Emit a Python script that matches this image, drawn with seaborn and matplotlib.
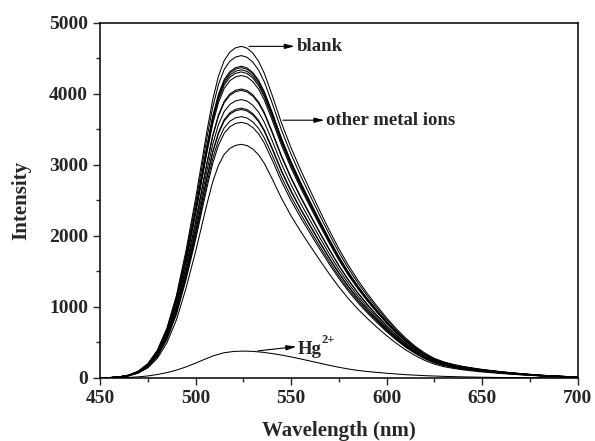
import numpy as np
import pandas as pd
import matplotlib
matplotlib.use("Agg")
import matplotlib.pyplot as plt
import seaborn as sns
from matplotlib.ticker import MultipleLocator

# ---- data ----
blank_wl = [450, 455, 460, 465, 470, 475, 480, 485, 490, 495, 500, 503, 506, 509, 512,
            515, 518, 521, 524, 527, 530, 533, 536, 540, 545, 550, 555, 560, 565,
            570, 575, 580, 585, 590, 595, 600, 605, 610, 615, 620, 625, 630, 635, 640, 645,
            650, 660, 670, 680, 690, 700]
blank_int = [0, 5, 15, 40, 95, 200, 390, 700, 1160, 1790, 2520, 3000, 3480, 3920, 4250,
             4470, 4590, 4650, 4670, 4645, 4575, 4460, 4290, 3990, 3590, 3240, 2930, 2640, 2355,
             2080, 1820, 1585, 1375, 1185, 1010, 845, 695, 560, 445, 350, 275, 225, 190, 162, 140,
             120, 88, 62, 40, 25, 14]
blank_peak = 4670
other_peaks = [4540, 4390, 4370, 4340, 4310, 4260, 4070, 4050, 3920, 3800, 3780, 3680, 3600, 3290]

hg_wl = [450, 460, 465, 470, 475, 480, 485, 490, 495, 500, 505, 510, 515, 520, 525,
         530, 535, 540, 545, 550, 555, 560, 565, 570, 575, 580, 585, 590, 595, 600,
         610, 620, 630, 640, 650, 660, 670, 680, 690, 700]
hg_int = [0, 3, 7, 15, 28, 48, 75, 110, 155, 208, 265, 318, 355, 373, 378,
          374, 362, 344, 322, 296, 268, 238, 208, 178, 150, 126, 106, 90, 78, 66,
          46, 32, 22, 15, 10, 6, 4, 2, 1, 0]

x_ticks = [450, 500, 550, 600, 650, 700]
y_ticks = [0, 1000, 2000, 3000, 4000, 5000]

# ---- build long-form table ----
rows = []
for w, v in zip(blank_wl, blank_int):
    rows.append(("blank", w, v))
for k, p in enumerate(other_peaks):
    for w, v in zip(blank_wl, blank_int):
        rows.append((f"ion{k}", w, v * p / blank_peak))
for w, v in zip(hg_wl, hg_int):
    rows.append(("Hg", w, v))
df = pd.DataFrame(rows, columns=["curve", "wl", "I"])

sns.set_style("white")
plt.rcParams["font.family"] = ["Liberation Serif", "DejaVu Serif"]
plt.rcParams["font.weight"] = "bold"

fig = plt.figure(figsize=(5.95, 4.41), dpi=100)
ax = fig.add_axes([0.168, 0.143, 0.803, 0.805])

sns.lineplot(data=df, x="wl", y="I", units="curve", estimator=None,
             color="black", lw=0.75, ax=ax, legend=False)

ax.set_xlim(450, 700)
ax.set_ylim(0, 5000)
ax.set_xticks(x_ticks)
ax.set_yticks(y_ticks)
ax.xaxis.set_minor_locator(MultipleLocator(25))
ax.yaxis.set_minor_locator(MultipleLocator(500))
ax.tick_params(axis="both", which="major", direction="out", length=5, width=1.0,
               labelsize=14, bottom=True, left=True, top=False, right=False, pad=3.5)
ax.tick_params(axis="both", which="minor", direction="out", length=3, width=1.0,
               bottom=True, left=True, top=False, right=False)
for lab in ax.get_xticklabels() + ax.get_yticklabels():
    lab.set_fontweight("bold")
for s in ax.spines.values():
    s.set_visible(True)
    s.set_linewidth(1.1)
    s.set_color("black")

ax.set_xlabel("Wavelength (nm)", fontsize=15, fontweight="bold", labelpad=10)
ax.set_ylabel("Intensity", fontsize=15, fontweight="bold", labelpad=13)

arrow = dict(arrowstyle="-|>,head_length=0.6,head_width=0.15", color="black", lw=0.8,
             shrinkA=0, shrinkB=0)
ax.annotate("", xy=(552, 4670), xytext=(528, 4670), arrowprops=arrow)
ax.text(553, 4670, "blank", fontsize=13.5, fontweight="bold", va="center", ha="left")
ax.annotate("", xy=(567.5, 3630), xytext=(545.7, 3630), arrowprops=arrow)
ax.text(568.2, 3630, "other metal ions", fontsize=13.5, fontweight="bold", va="center", ha="left")
ax.annotate("", xy=(552.8, 441), xytext=(532.6, 381), arrowprops=arrow)
hg = ax.text(553.6, 395, "Hg", fontsize=13.5, fontweight="bold", va="center", ha="left")
ax.annotate("2+", xy=(1.0, 0.72), xycoords=hg, fontsize=9, fontweight="bold",
            va="bottom", ha="left")

fig.savefig("out.png", dpi=100)
